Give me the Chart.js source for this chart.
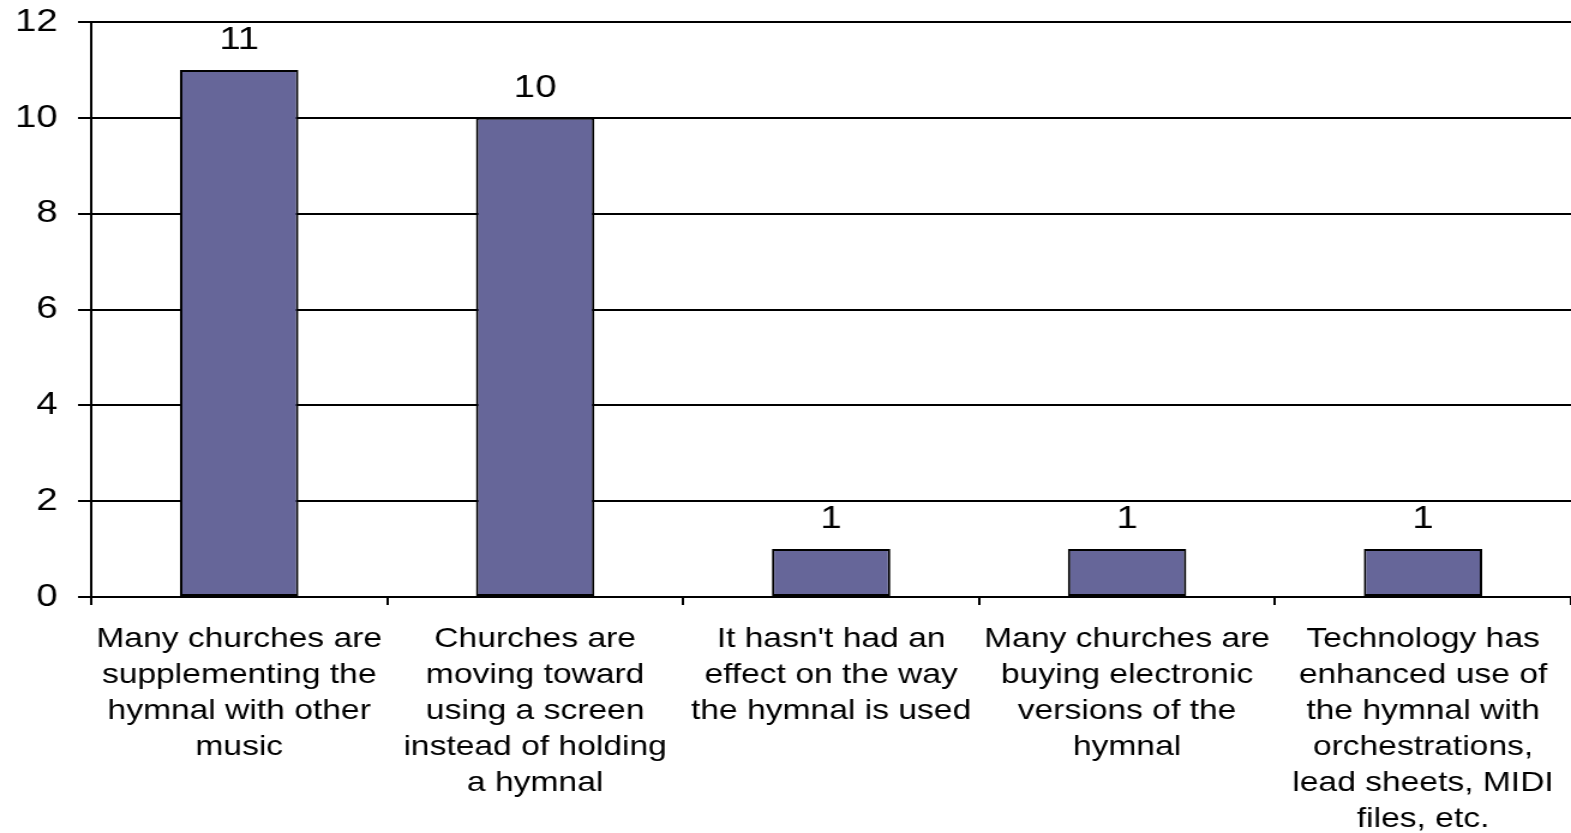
<!DOCTYPE html>
<html>
<head>
<meta charset="utf-8">
<script src="https://cdn.jsdelivr.net/npm/chart.js@4"></script>
<style>
  html, body { margin: 0; padding: 0; background: #ffffff; overflow: hidden; }
  #c { display: block; width: 1571px; height: 833px; }
</style>
</head>
<body>
<canvas id="c" width="1309" height="833" style="width:1571px;height:833px;"></canvas>
<script>
const categories = [
  ["Many churches are", "supplementing the", "hymnal with other", "music"],
  ["Churches are", "moving toward", "using a screen", "instead of holding", "a hymnal"],
  ["It hasn't had an", "effect on the way", "the hymnal is used"],
  ["Many churches are", "buying electronic", "versions of the", "hymnal"],
  ["Technology has", "enhanced use of", "the hymnal with", "orchestrations,", "lead sheets, MIDI", "files, etc."]
];
const counts = [11, 10, 1, 1, 1];
const yTicks = [0, 2, 4, 6, 8, 10, 12];

const FONT = "'Liberation Sans', Arial, sans-serif";

const valueLabels = {
  id: 'valueLabels',
  afterDatasetsDraw(chart) {
    const ctx = chart.ctx;
    const meta = chart.getDatasetMeta(0);
    ctx.save();
    ctx.font = "32px " + FONT;
    ctx.fillStyle = '#000000';
    ctx.textAlign = 'center';
    ctx.textBaseline = 'alphabetic';
    meta.data.forEach((bar, i) => {
      ctx.fillText(String(counts[i]), bar.x, bar.y - 21);
    });
    ctx.restore();
  }
};

new Chart(document.getElementById('c'), {
  type: 'bar',
  data: {
    labels: categories,
    datasets: [{
      data: counts,
      backgroundColor: '#666699',
      borderColor: '#000000',
      borderWidth: 2,
      borderSkipped: false,
      categoryPercentage: 1.0,
      barPercentage: 0.4
    }]
  },
  options: {
    responsive: false,
    maintainAspectRatio: false,
    devicePixelRatio: 1,
    animation: false,
    layout: { padding: { top: 22, right: 0, left: 0, bottom: 0 } },
    plugins: {
      legend: { display: false },
      tooltip: { enabled: false },
      title: { display: false }
    },
    scales: {
      x: {
        offset: true,
        grid: {
          display: true,
          offset: true,
          drawOnChartArea: false,
          drawTicks: true,
          tickLength: 8,
          color: '#000000',
          lineWidth: 2
        },
        border: { display: true, color: '#000000', width: 2 },
        ticks: {
          autoSkip: false,
          maxRotation: 0,
          minRotation: 0,
          padding: 16,
          color: '#000000',
          font: { family: FONT, size: 28, lineHeight: 1.29 }
        },
        afterFit(scale) {
          scale.height = 236;
          scale.paddingLeft = 0; scale.paddingRight = 0;
          scale.paddingTop = 0; scale.paddingBottom = 0;
        }
      },
      y: {
        min: 0,
        max: 12,
        afterBuildTicks(scale) { scale.ticks = yTicks.map(v => ({ value: v })); },
        grid: {
          color: '#000000',
          lineWidth: 2,
          drawTicks: true,
          tickLength: 11
        },
        border: { display: true, color: '#000000', width: 2 },
        ticks: {
          padding: 17,
          color: '#000000',
          font: { family: FONT, size: 32 }
        },
        afterFit(scale) {
          scale.width = 76;
          scale.paddingTop = 0; scale.paddingBottom = 0;
          scale.paddingLeft = 0; scale.paddingRight = 0;
        }
      }
    }
  },
  plugins: [valueLabels]
});
</script>
</body>
</html>
